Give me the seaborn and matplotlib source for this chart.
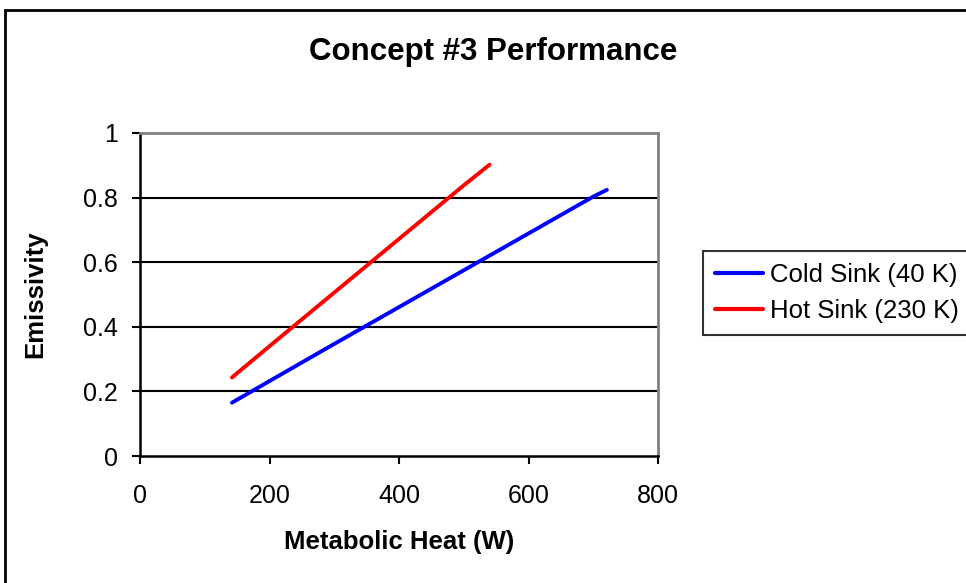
import matplotlib
matplotlib.use("Agg")
import matplotlib.pyplot as plt
import seaborn as sns
import pandas as pd
from matplotlib.patches import Rectangle

# ---- data ----
cold_x = [142, 200, 300, 400, 500, 600, 700, 721]
cold_y = [0.165, 0.232, 0.347, 0.461, 0.575, 0.689, 0.803, 0.824]
hot_x = [142, 200, 300, 400, 500, 540]
hot_y = [0.243, 0.340, 0.506, 0.672, 0.838, 0.902]
series_names = ["Cold Sink (40 K)", "Hot Sink (230 K)"]
series_colors = ["#0000FF", "#FF0000"]
x_ticks = [0, 200, 400, 600, 800]
y_ticks = [0, 0.2, 0.4, 0.6, 0.8, 1]
y_tick_labels = ["0", "0.2", "0.4", "0.6", "0.8", "1"]
title = "Concept #3 Performance"
x_label = "Metabolic Heat (W)"
y_label = "Emissivity"

df = pd.concat([
    pd.DataFrame({"x": cold_x, "y": cold_y, "series": series_names[0]}),
    pd.DataFrame({"x": hot_x, "y": hot_y, "series": series_names[1]}),
], ignore_index=True)

sns.set_theme(style="white")
plt.rcParams["font.family"] = ["Liberation Sans", "DejaVu Sans"]
plt.rcParams["text.color"] = "black"
plt.rcParams["axes.labelcolor"] = "black"
plt.rcParams["xtick.color"] = "black"
plt.rcParams["ytick.color"] = "black"

W, H = 966, 583
fig = plt.figure(figsize=(W / 100, H / 100), dpi=100)
fig.patch.set_facecolor("white")
ax = fig.add_axes([140 / W, 1 - 456 / H, (658 - 140) / W, (456 - 133) / H])

sns.lineplot(data=df, x="x", y="y", hue="series", palette=series_colors,
             hue_order=series_names, linewidth=2.8, ax=ax, legend=True,
             estimator=None, sort=False)

ax.set_xlim(0, 800)
ax.set_ylim(0, 1)
ax.set_xticks(x_ticks)
ax.set_xticklabels([str(t) for t in x_ticks])
ax.set_yticks(y_ticks)
ax.set_yticklabels(y_tick_labels)
ax.tick_params(axis="both", which="major", direction="out", length=6, width=1.5,
               color="black", labelsize=18, labelcolor="black", pad=10,
               left=True, bottom=True)
ax.tick_params(axis="x", pad=14)

for v in [0.2, 0.4, 0.6, 0.8]:
    ax.axhline(v, color="black", linewidth=1.5, zorder=0.5)

for s in ["left", "bottom"]:
    ax.spines[s].set_color("black")
    ax.spines[s].set_linewidth(1.8)
for s in ["top", "right"]:
    ax.spines[s].set_color("#808080")
    ax.spines[s].set_linewidth(2.0)
    ax.spines[s].set_visible(True)

ax.set_xlabel(x_label, fontsize=18.5, fontweight="bold", labelpad=16)
ax.set_ylabel(y_label, fontsize=18.5, fontweight="bold", labelpad=26)

fig.text(493 / W, 1 - 52 / H, title, ha="center", va="center",
         fontsize=22.5, fontweight="bold")

leg = ax.legend(loc="center left", bbox_to_anchor=(703 / W, 1 - 293 / H),
                bbox_transform=fig.transFigure, frameon=True, fancybox=False,
                fontsize=18.5, handlelength=1.9, handletextpad=0.25,
                borderpad=0.45, labelspacing=0.5, borderaxespad=0)
leg.get_frame().set_edgecolor("black")
leg.get_frame().set_linewidth(1.5)
for line in leg.get_lines():
    line.set_linewidth(3)

fig.patches.append(Rectangle((5 / W, -0.1), 1.2, 1 - 10 / H + 0.1,
                             transform=fig.transFigure, fill=False,
                             edgecolor="black", linewidth=2, zorder=0))

fig.savefig("out.png", dpi=100)
